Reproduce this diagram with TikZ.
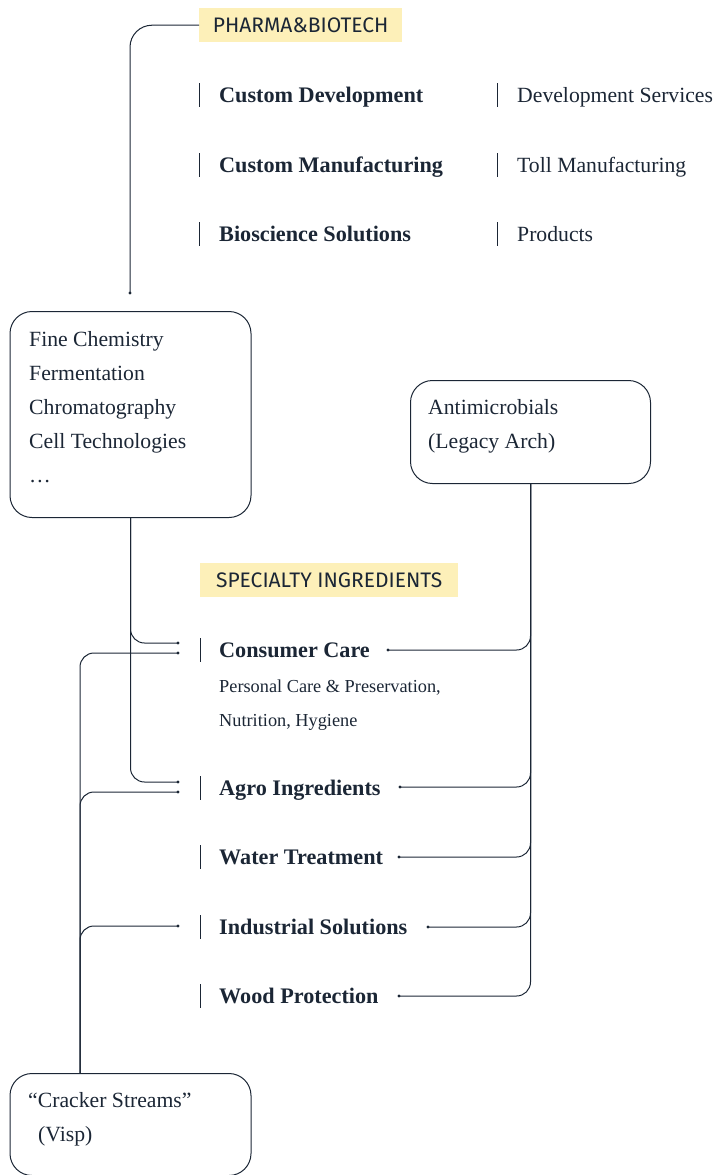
\documentclass[tikz,border=0pt]{standalone}
\usepackage{fontspec}
\setmainfont{Liberation Serif}
\newfontfamily\hdrfont{Fira Sans}
\definecolor{ink}{HTML}{1B2635}
\definecolor{hl}{HTML}{FDF0B9}
\begin{document}
\begin{tikzpicture}[x=1pt,y=-1pt,
 conn/.style={draw=ink, line width=1pt, rounded corners=14pt},
 box/.style={draw=ink, line width=1pt, rounded corners=22pt, anchor=north west, inner sep=0pt},
 hdr/.style={fill=hl, text=ink, font=\hdrfont\fontsize{21}{21}\selectfont, minimum height=34pt, inner sep=0pt, anchor=north west},
 bold/.style={anchor=base west, text=ink, font=\bfseries\fontsize{22.2}{24}\selectfont, inner sep=0pt},
 reg/.style={anchor=base west, text=ink, font=\fontsize{21.7}{24}\selectfont, inner sep=0pt},
 small/.style={anchor=base west, text=ink, font=\fontsize{18.3}{20}\selectfont, inner sep=0pt},
 bar/.style={draw=ink, line width=0.9pt},
 dot/.style={fill=ink}
]
\useasboundingbox (0,0) rectangle (717,1175);

% headers
\node[hdr, minimum width=203pt] (ph) at (199,8) {PHARMA\&BIOTECH};
\node[hdr, minimum width=258pt] (sp) at (200,563) {SPECIALTY INGREDIENTS};

% pharma rows
\foreach \y/\a/\b [count=\i] in {95/Custom Development/Development Services, 165/Custom Manufacturing/Toll Manufacturing, 234/Bioscience Solutions/Products}{
  \draw[bar] (199,\y-12) -- (199,\y+12);
  \draw[bar] (497,\y-12) -- (497,\y+12);
  \node[bold] (pa\i) at (219,\y+7.5) {\a};
  \node[reg] (pb\i) at (517,\y+7.5) {\b};
}

% boxes
\node[box, minimum width=241pt, minimum height=206pt] (fine) at (9.5,311) {};
\node[reg] (f1) at (29,346) {Fine Chemistry};
\node[reg] (f2) at (29,380) {Fermentation};
\node[reg] (f3) at (29,414) {Chromatography};
\node[reg] (f4) at (29,448) {Cell Technologies};
\node[reg] (f5) at (29,482) {\dots};

\node[box, minimum width=240pt, minimum height=103pt] (am) at (410,380) {};
\node[reg] (a1) at (428,414) {Antimicrobials};
\node[reg] (a2) at (428,448) {(Legacy Arch)};

\node[box, minimum width=241pt, minimum height=102pt] (cr) at (9.5,1073) {};
\node[reg] (c1) at (28,1107) {“Cracker Streams”};
\node[reg] (c2) at (38,1141) {(Visp)};

% specialty items
\foreach \y/\t/\n in {650/Consumer Care/cc, 788/Agro Ingredients/ag, 857/Water Treatment/wt, 927/Industrial Solutions/is, 996/Wood Protection/wp}{
  \draw[bar] (200,\y-12) -- (200,\y+12);
  \node[bold] (\n) at (219,\y+7.5) {\t};
}
\node[small] (cc1t) at (219,692) {Personal Care \& Preservation,};
\node[small] (cc2t) at (219,726) {Nutrition, Hygiene};

% connector ends
\coordinate (phend) at (130,293);
\coordinate (lcc1) at (178,643);
\coordinate (lcc2) at (178,653);
\coordinate (lag1) at (178,782);
\coordinate (lag2) at (178,792);
\coordinate (lis) at (178,926);
\coordinate (rcc) at (388,650);
\coordinate (rag) at (400,787);
\coordinate (rwt) at (399,857);
\coordinate (ris) at (428,927);
\coordinate (rwp) at (399,996);

% connectors
\draw[conn, rounded corners=22pt] (ph.west) -| (phend);
\draw[conn] (fine.south) |- (lcc1);
\draw[conn] (fine.south) |- (lag1);
\draw[conn] ([xshift=70.5pt]cr.north west) |- (lcc2);
\draw[conn] ([xshift=70.5pt]cr.north west) |- (lag2);
\draw[conn] ([xshift=70.5pt]cr.north west) |- (lis);
\foreach \c in {rcc,rag,rwt,ris,rwp}{
  \draw[conn] (am.south) |- (\c);
}
\foreach \c in {phend,lcc1,lcc2,lag1,lag2,lis,rcc,rag,rwt,ris,rwp}{
  \fill[dot] (\c) circle (1.7pt);
}
\end{tikzpicture}
\end{document}
